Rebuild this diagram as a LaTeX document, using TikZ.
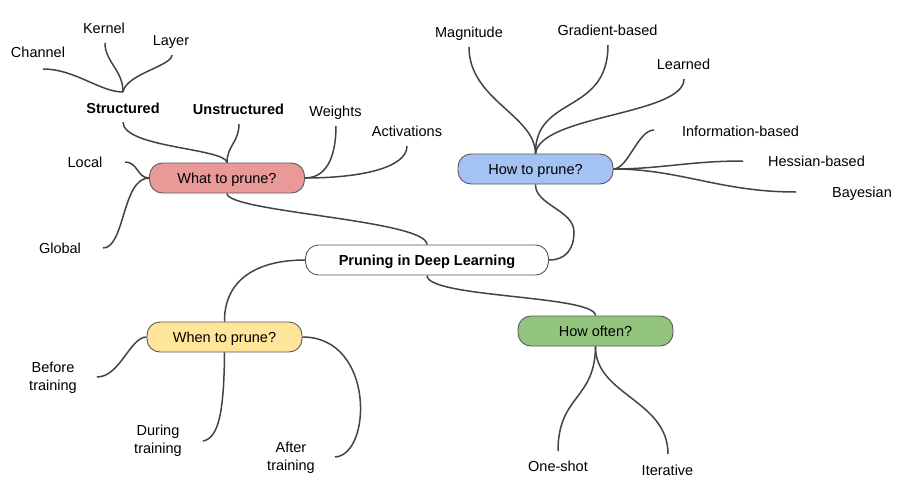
\documentclass[tikz,border=0pt]{standalone}
\usepackage{fontspec}
\setmainfont{Liberation Sans}
\definecolor{boxgray}{HTML}{595959}
\definecolor{linegray}{HTML}{434343}
\definecolor{whatfill}{HTML}{EA9999}
\definecolor{howfill}{HTML}{A4C2F4}
\definecolor{whenfill}{HTML}{FFE599}
\definecolor{oftenfill}{HTML}{93C47D}
\begin{document}
\begin{tikzpicture}[x=1pt,y=-1pt,
  txt/.style={font=\fontsize{14.5}{18}\selectfont},
  hub/.style={txt, draw=boxgray, line width=0.9pt, rounded corners=13pt,
    minimum width=155pt, minimum height=30pt, inner sep=0pt,
    text height=10.4pt, text depth=0pt},
  leaf/.style={txt, inner sep=0pt, text height=10.4pt, text depth=0pt},
  leaftwo/.style={txt, inner sep=0pt, align=center},
  link/.style={draw=linegray, line width=1.5pt}]
\useasboundingbox (0,0) rectangle (910,495);

% hubs
\node[hub, fill=white, minimum width=243pt, font=\fontsize{14.5}{18}\selectfont\bfseries] (root) at (427,260) {Pruning in Deep Learning};
\node[hub, fill=whatfill] (what) at (227,178) {What to prune?};
\node[hub, fill=howfill] (how) at (535.5,169) {How to prune?};
\node[hub, fill=whenfill] (when) at (224.5,337) {When to prune?};
\node[hub, fill=oftenfill] (often) at (595.5,331) {How often?};

% leaves
\node[leaf] (channel) at (38,52) {Channel};
\node[leaf] (kernel) at (104,28) {Kernel};
\node[leaf] (layer) at (171,40) {Layer};
\node[leaf, font=\fontsize{14.5}{18}\selectfont\bfseries] (struct) at (123,108) {Structured};
\node[leaf, font=\fontsize{14.5}{18}\selectfont\bfseries] (unstruct) at (238.5,109) {Unstructured};
\node[leaf] (weights) at (335.5,111) {Weights};
\node[leaf] (activ) at (407,131) {Activations};
\node[leaf] (local) at (85,162) {Local};
\node[leaf] (global) at (60,248) {Global};

\node[leaf] (magnitude) at (469,32) {Magnitude};
\node[leaf] (gradient) at (607.5,30) {Gradient-based};
\node[leaf] (learned) at (683.5,64) {Learned};
\node[leaf] (info) at (740.5,131) {Information-based};
\node[leaf] (hessian) at (816.5,161) {Hessian-based};
\node[leaf] (bayes) at (862,192) {Bayesian};

\node[leaftwo] (before) at (53,378) {Before\\training};
\node[leaftwo] (during) at (158,441) {During\\training};
\node[leaftwo] (after) at (291,458) {After\\training};
\node[leaf] (oneshot) at (558,466) {One-shot};
\node[leaf] (iter) at (667.5,470) {Iterative};

% connector ends
\coordinate (sj) at (123,92);
\coordinate (channelEnd) at (43,69);
\coordinate (kernelEnd) at (105,43);
\coordinate (layerEnd) at (172,55);
\coordinate (structEnd) at (123,122);
\coordinate (unstructEnd) at (239,124);
\coordinate (weightsEnd) at (336,126);
\coordinate (activEnd) at (407,146);
\coordinate (localEnd) at (125,162);
\coordinate (globalEnd) at (103,248);
\coordinate (magEnd) at (469,47);
\coordinate (gradEnd) at (608,45);
\coordinate (learnEnd) at (684,79);
\coordinate (infoEnd) at (654,130);
\coordinate (hessEnd) at (743,161);
\coordinate (bayesEnd) at (796,192);
\coordinate (beforeEnd) at (97,377);
\coordinate (duringEnd) at (203,441);
\coordinate (afterEnd) at (335,457);
\coordinate (oneEnd) at (558,451);
\coordinate (iterEnd) at (668,454);
\coordinate (howBend) at (574,232);

% what to prune
\draw[link] (what.south) .. controls (227,212) and (427,220) .. (root.north);
\draw[link] (what.north) .. controls (227,146) and (239,142) .. (unstructEnd);
\draw[link] (what.north) .. controls (225,148) and (123,148) .. (structEnd);
\draw[link] (channelEnd) .. controls (75,69) and (100,92) .. (sj);
\draw[link] (kernelEnd) .. controls (105,62) and (123,70) .. (sj);
\draw[link] (layerEnd) .. controls (172,66) and (126,74) .. (sj);
\draw[link] (what.west) .. controls (137,178) and (138,162) .. (localEnd);
\draw[link] (what.west) .. controls (122,178) and (125,248) .. (globalEnd);
\draw[link] (what.east) .. controls (330,178) and (336,150) .. (weightsEnd);
\draw[link] (what.east) .. controls (360,178) and (407,168) .. (activEnd);

% how to prune
\draw[link] (root.east) .. controls (565,260) and (574,250) .. (howBend)
  .. controls (574,210) and (535,205) .. (how.south);
\draw[link] (how.north) .. controls (535,115) and (469,100) .. (magEnd);
\draw[link] (how.north) .. controls (535,95) and (608,115) .. (gradEnd);
\draw[link] (how.north) .. controls (540,115) and (684,115) .. (learnEnd);
\draw[link] (how.east) .. controls (628,169) and (638,130) .. (infoEnd);
\draw[link] (how.east) .. controls (660,169) and (690,161) .. (hessEnd);
\draw[link] (how.east) .. controls (680,169) and (720,192) .. (bayesEnd);

% when to prune
\draw[link] (root.west) .. controls (250,260) and (224,285) .. (when.north);
\draw[link] (when.west) .. controls (130,337) and (120,377) .. (beforeEnd);
\draw[link] (when.south) .. controls (224,415) and (218,438) .. (duringEnd);
\draw[link] (when.east) .. controls (375,337) and (372,455) .. (afterEnd);

% how often
\draw[link] (root.south) .. controls (427,298) and (595,295) .. (often.north);
\draw[link] (often.south) .. controls (595,400) and (558,395) .. (oneEnd);
\draw[link] (often.south) .. controls (595,395) and (668,400) .. (iterEnd);
\end{tikzpicture}
\end{document}
